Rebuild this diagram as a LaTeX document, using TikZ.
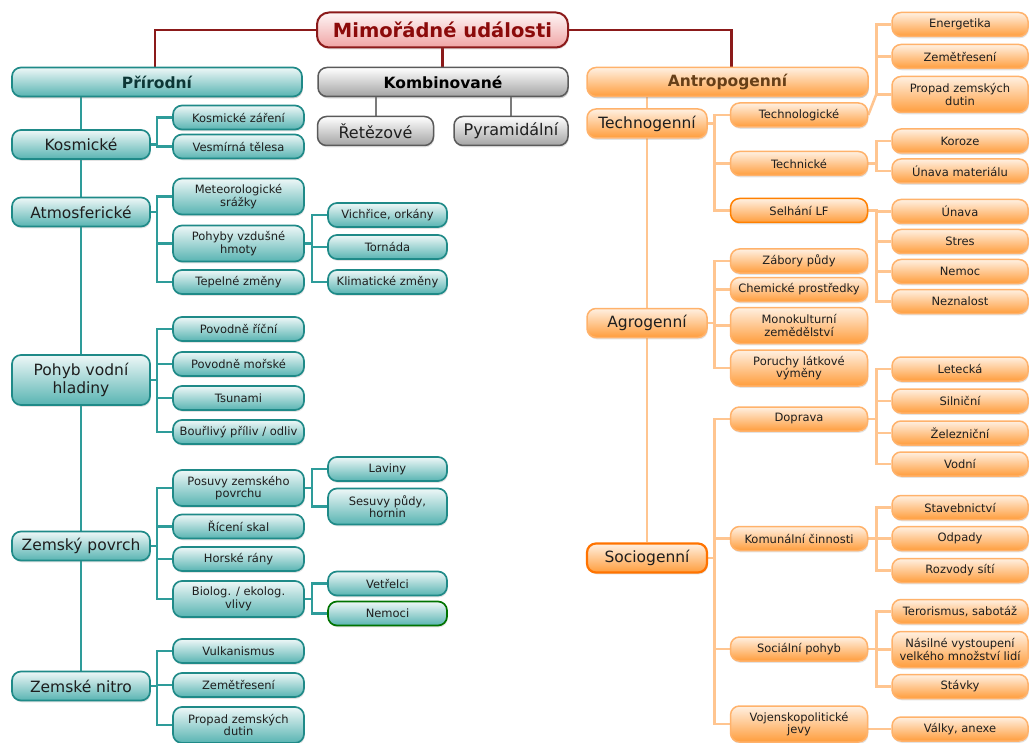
\documentclass[tikz,border=0pt]{standalone}
\usepackage{fontspec}
\setmainfont{DejaVu Sans}
\usepackage{tikz}
\usetikzlibrary{positioning,backgrounds,shadows}
\definecolor{ink}{HTML}{1E1E1E}
\definecolor{tealedge}{HTML}{1F8A88}
\definecolor{tealfill}{HTML}{58B4B2}
\definecolor{tealline}{HTML}{2E9C9A}
\definecolor{oredge}{HTML}{FFB26B}
\definecolor{orfill}{HTML}{FF9D3C}
\definecolor{orline}{HTML}{FFC590}
\definecolor{grayedge}{HTML}{5A5A5A}
\definecolor{grayfill}{HTML}{A3A3A3}
\definecolor{rootedge}{HTML}{8B1A1A}
\definecolor{rootfill}{HTML}{F0A4A4}
\definecolor{roottext}{HTML}{8B0A0A}

\begin{document}
\begin{tikzpicture}[x=1pt, y=-1pt,
  every node/.style={font=\fontsize{11.5}{12.5}\selectfont, text=ink},
  box/.style={rectangle, rounded corners=9pt, align=center, inner sep=1pt,
    drop shadow={opacity=0.22, shadow xshift=0.8pt, shadow yshift=-1.8pt}},
  big/.style={font=\fontsize{15.5}{18}\selectfont},
  head/.style={box, rounded corners=11pt, minimum height=29pt, font=\bfseries\fontsize{15.5}{18}\selectfont},
  tbox/.style={box, draw=tealedge, line width=1.7pt, top color=tealfill!10, bottom color=tealfill},
  obox/.style={box, draw=oredge, line width=1.5pt, top color=orfill!15, bottom color=orfill},
  gbox/.style={box, draw=grayedge, line width=1.5pt, top color=white, bottom color=grayfill},
  tall/.style={minimum height=36pt},
  t2/.style={tbox, big, minimum width=138pt, minimum height=29pt},
  t3/.style={tbox, minimum width=131pt, minimum height=24pt},
  t4/.style={tbox, minimum width=119pt, minimum height=24pt},
  o2/.style={obox, big, minimum width=120pt, minimum height=29pt},
  o3/.style={obox, minimum width=137pt, minimum height=24pt},
  o4/.style={obox, minimum width=136pt, minimum height=24pt},
  g2/.style={gbox, font=\fontsize{16}{18}\selectfont, minimum width=116pt, minimum height=29pt},
  rootline/.style={draw=rootedge, line width=2.6pt},
  tline/.style={draw=tealline, line width=2.2pt},
  oline/.style={draw=orline, line width=2.6pt},
  gline/.style={draw=grayedge!80, line width=2pt}
]
\useasboundingbox (0,0) rectangle (1030,743);

% Root
\node[box, draw=rootedge, line width=2pt, top color=rootfill!10, bottom color=rootfill,
  minimum width=251pt, minimum height=35pt, rounded corners=12pt,
  font=\bfseries\fontsize{19.5}{22}\selectfont, text=roottext] (root) at (442.5,30) {Mimořádné události};

% Main groups
\node[head, tbox, minimum width=290pt, text=tealedge!40!black] (prir) at (157,82) {Přírodní};
\node[head, gbox, minimum width=250pt, text=black] (komb) at (443,82) {Kombinované};
\node[head, obox, minimum width=281pt, text=orfill!40!black] (antr) at (727.5,82) {Antropogenní};

% Kombinovane
\node[g2] (ret) at (375.5,131) {Řetězové};
\node[g2, minimum width=114pt] (pyr) at (511,131) {Pyramidální};

% Prirodni - level 2
\node[t2] (kos) at (81,144.5) {Kosmické};
\node[t2] (atm) at (81,212) {Atmosferické};
\node[t2, minimum height=50pt] (vod) at (81,380) {Pohyb vodní\\hladiny};
\node[t2] (zpov) at (81,546) {Zemský povrch};
\node[t2] (znit) at (81,686) {Zemské nitro};

% Prirodni - level 3
\node[t3] (kzar) at (238.5,117.5) {Kosmické záření};
\node[t3] (vtel) at (238.5,146.5) {Vesmírná tělesa};
\node[t3, tall] (meteo) at (238.5,196.5) {Meteorologické\\srážky};
\node[t3, tall] (vzduch) at (238.5,243.5) {Pohyby vzdušné\\hmoty};
\node[t3] (tepl) at (238.5,282) {Tepelné změny};
\node[t3] (prec) at (238.5,329) {Povodně říční};
\node[t3] (pmor) at (238.5,364) {Povodně mořské};
\node[t3] (tsun) at (238.5,398) {Tsunami};
\node[t3] (pril) at (238.5,432) {Bouřlivý příliv / odliv};
\node[t3, tall] (posuv) at (238.5,488) {Posuvy zemského\\povrchu};
\node[t3] (ricen) at (238.5,526.5) {Řícení skal};
\node[t3] (hrany) at (238.5,559) {Horské rány};
\node[t3, tall] (biol) at (238.5,599) {Biolog. / ekolog.\\vlivy};
\node[t3] (vulk) at (238.5,651) {Vulkanismus};
\node[t3] (zemt) at (238.5,685) {Zemětřesení};
\node[t3, tall] (pdut) at (238.5,725) {Propad zemských\\dutin};

% Prirodni - level 4
\node[t4] (vich) at (387.5,215) {Vichřice, orkány};
\node[t4] (torn) at (387.5,247) {Tornáda};
\node[t4] (klim) at (387.5,282) {Klimatické změny};
\node[t4] (lav) at (387.5,469) {Laviny};
\node[t4, tall] (sesuv) at (387.5,506.5) {Sesuvy půdy,\\hornin};
\node[t4] (vetr) at (387.5,583.5) {Vetřelci};
\node[t4, draw=green!45!black] (nemci) at (387.5,613.5) {Nemoci};

% Antropogenni - level 2
\node[o2] (techn) at (647,123.5) {Technogenní};
\node[o2] (agro) at (647,323) {Agrogenní};
\node[o2, draw=orange!90!red, line width=2.2pt] (socio) at (647,558) {Sociogenní};

% Antropogenni - level 3
\node[o3] (techl) at (799,115) {Technologické};
\node[o3] (techk) at (799,163.5) {Technické};
\node[o3, draw=orange] (selh) at (799,210.5) {Selhání LF};
\node[o3] (zabor) at (799,261) {Zábory půdy};
\node[o3] (chem) at (799,289.5) {Chemické prostředky};
\node[o3, tall] (monok) at (799,325.5) {Monokulturní\\zemědělství};
\node[o3, tall] (poruch) at (799,368) {Poruchy látkové\\výměny};
\node[o3] (dopr) at (799,419) {Doprava};
\node[o3] (komun) at (799,538.5) {Komunální činnosti};
\node[o3] (socp) at (799,649) {Sociální pohyb};
\node[o3, tall] (vojen) at (799,724) {Vojenskopolitické\\jevy};

% Antropogenni - level 4
\node[o4] (energ) at (960,24.5) {Energetika};
\node[o4] (zemr) at (960,56.5) {Zemětřesení};
\node[o4, tall] (propd) at (960,94.5) {Propad zemských\\dutin};
\node[o4] (koroz) at (960,141) {Koroze};
\node[o4] (unmat) at (960,171) {Únava materiálu};
\node[o4] (unava) at (960,211.5) {Únava};
\node[o4] (stres) at (960,241.5) {Stres};
\node[o4] (nemoc) at (960,271.5) {Nemoc};
\node[o4] (nezn) at (960,301.5) {Neznalost};
\node[o4] (letec) at (960,369) {Letecká};
\node[o4] (silni) at (960,401) {Silniční};
\node[o4] (zelez) at (960,433) {Železniční};
\node[o4] (vodni) at (960,464) {Vodní};
\node[o4] (stav) at (960,507.5) {Stavebnictví};
\node[o4] (odpad) at (960,538.5) {Odpady};
\node[o4] (rozv) at (960,570.5) {Rozvody sítí};
\node[o4] (teror) at (960,611.5) {Terorismus, sabotáž};
\node[o4, tall] (nasil) at (960,649.5) {Násilné vystoupení\\velkého množství lidí};
\node[o4] (stavk) at (960,686.5) {Stávky};
\node[o4] (valky) at (960,729) {Války, anexe};

% Connectors
\begin{scope}[on background layer]
\draw[rootline] (root.west) -| ([xshift=-2pt]prir.north);
\draw[rootline] (root.east) -| ([xshift=4pt]antr.north);
\draw[rootline] (root.south) -- (root.south |- komb.north);

\draw[gline] (ret.north |- komb.south) -- (ret.north);
\draw[gline] (pyr.north |- komb.south) -- (pyr.north);

% trunks
\draw[tline, line width=2.8pt] (kos.north |- prir.south) -- (znit.north);
\draw[oline, line width=2.8pt] (techn.north |- antr.south) -- (socio.north);

% teal branches
\foreach \p/\cs in {kos/{kzar,vtel}, atm/{meteo,vzduch,tepl}, vod/{prec,pmor,tsun,pril},
    zpov/{posuv,ricen,hrany,biol}, znit/{vulk,zemt,pdut}}
  \foreach \c in \cs
    \draw[tline] (\p.east) -| ([xshift=-15pt]\c.west) -- (\c.west);
\foreach \p/\cs in {vzduch/{vich,torn,klim}, posuv/{lav,sesuv}, biol/{vetr,nemci}}
  \foreach \c in \cs
    \draw[tline] (\p.east) -| ([xshift=-15pt]\c.west) -- (\c.west);

% orange branches
\foreach \p/\cs in {techn/{techl,techk,selh}, agro/{zabor,chem,monok,poruch},
    socio/{dopr,komun,socp,vojen}}
  \foreach \c in \cs
    \draw[oline] (\p.east) -| ([xshift=-15pt]\c.west) -- (\c.west);
\foreach \p/\cs in {techk/{koroz,unmat}, selh/{unava,stres,nemoc,nezn},
    dopr/{letec,silni,zelez,vodni}, komun/{stav,odpad,rozv}, socp/{teror,nasil,stavk}}
  \foreach \c in \cs
    \draw[oline] (\p.east) -| ([xshift=-15pt]\c.west) -- (\c.west);
\draw[oline] (techl.east) -- ([xshift=-15pt]propd.west) -- (propd.west);
\foreach \c in {energ,zemr}
  \draw[oline] ([xshift=-15pt]propd.west) |- (\c.west);
\draw[oline] (valky.west) -- (valky.west -| vojen.east);
\end{scope}

\end{tikzpicture}
\end{document}
